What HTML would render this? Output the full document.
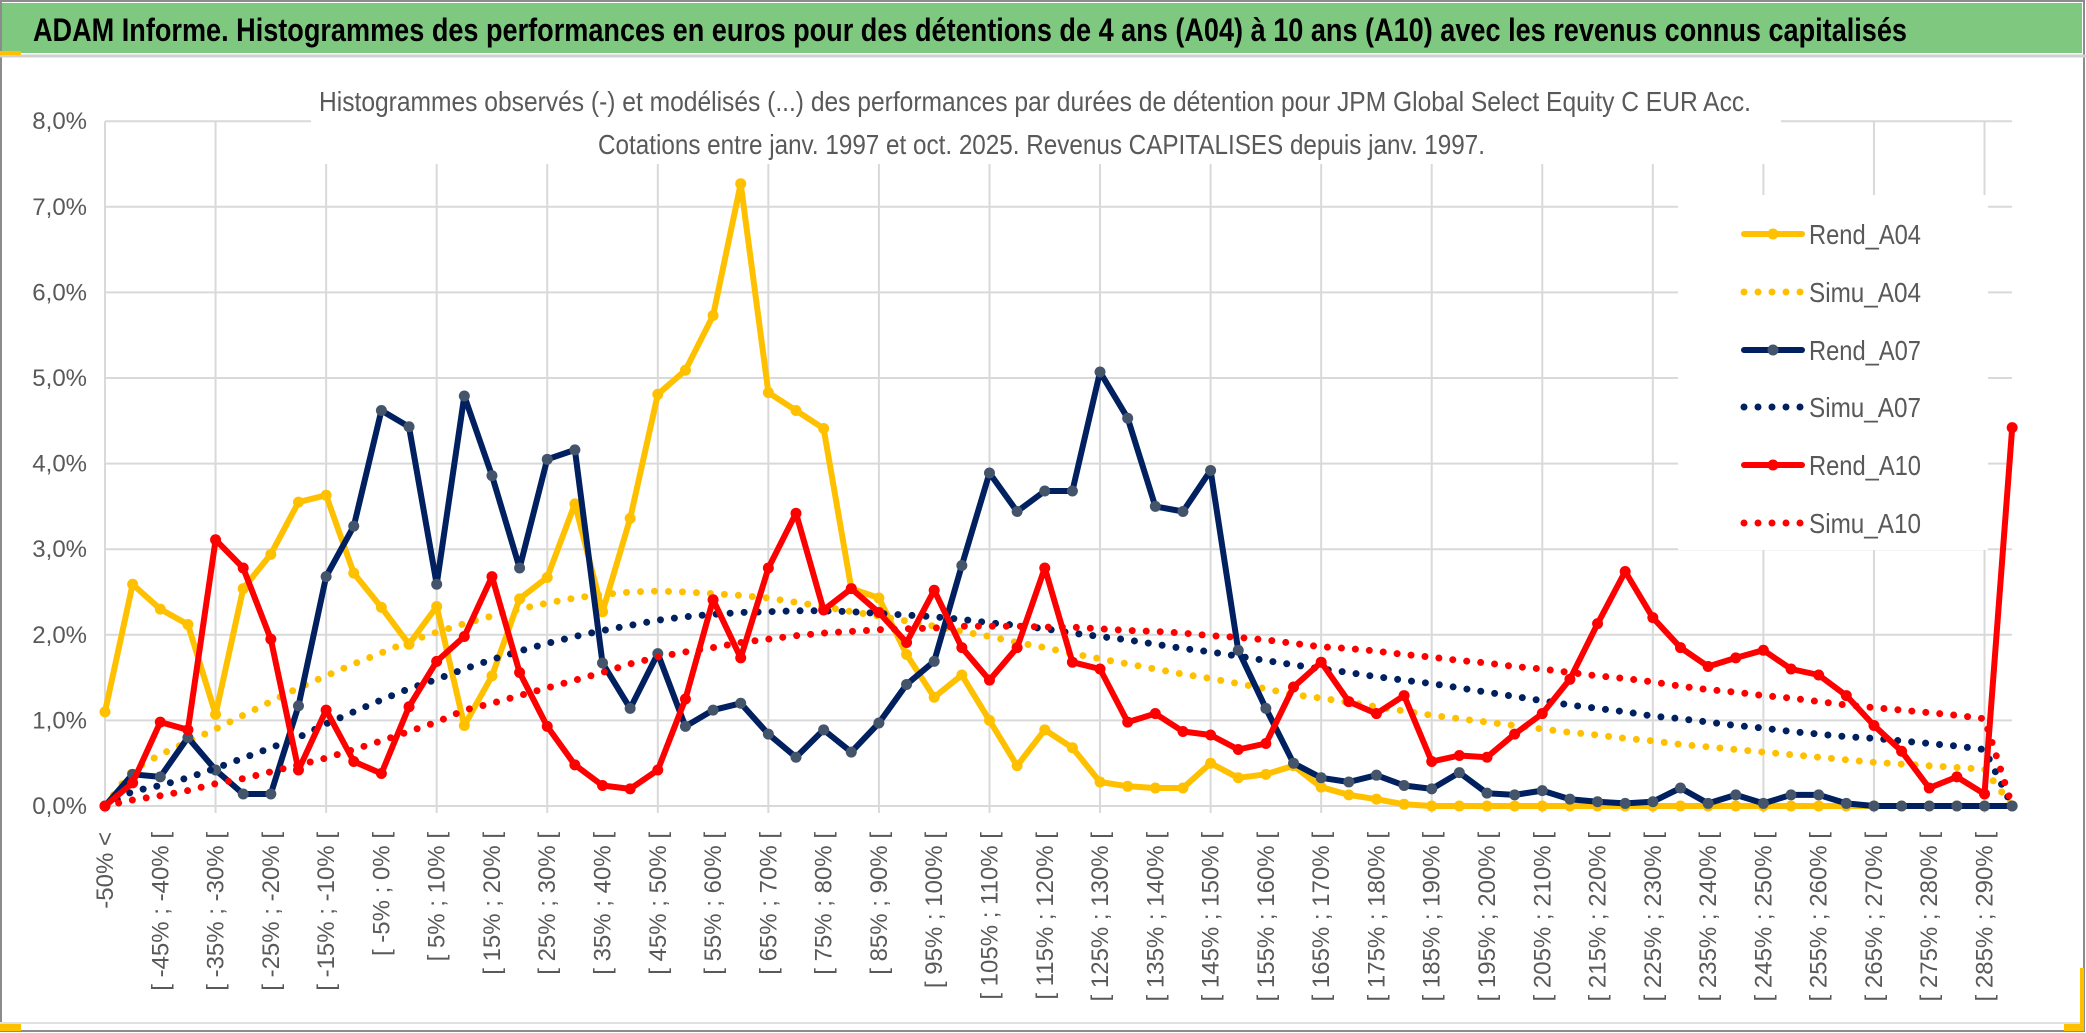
<!DOCTYPE html>
<html><head><meta charset="utf-8">
<style>
html,body{margin:0;padding:0;background:#fff;}
svg{display:block;font-family:"Liberation Sans Narrow","Liberation Sans",sans-serif;}
</style></head>
<body>
<svg id="chart" width="2086" height="1033" viewBox="0 0 2086 1033" xmlns="http://www.w3.org/2000/svg">
  <rect x="0" y="0" width="2086" height="1033" fill="#fff"/>
  <rect x="1" y="1" width="2083" height="1030" fill="none" stroke="#8c8c8c" stroke-width="2"/>
  <rect x="2" y="3" width="2080" height="50" fill="#7ec87f"/>
  <line x1="0" y1="56" x2="2086" y2="56" stroke="#d0d0d0" stroke-width="3"/>
  <rect x="0" y="51" width="21" height="4" fill="#ffc000"/>
  <rect x="0" y="1024" width="21" height="7" fill="#ffc000"/>
  <rect x="2064" y="1023" width="20" height="8" fill="#ffc000"/>
  <rect x="2080" y="968" width="4" height="60" fill="#ffc000"/>
  <line x1="0" y1="1023" x2="2080" y2="1023" stroke="#e0e0e0" stroke-width="2"/>
  <text x="33" y="41" font-size="32" font-weight="bold" fill="#000" textLength="1874" lengthAdjust="spacingAndGlyphs">ADAM Informe. Histogrammes des performances en euros pour des détentions de 4 ans (A04) à 10 ans (A10) avec les revenus connus capitalisés</text>
  <g id="grid"></g>
  <rect x="311" y="75" width="1470" height="89" fill="#fff"/>
  <text x="319" y="111" font-size="28" fill="#595959" textLength="1432" lengthAdjust="spacingAndGlyphs">Histogrammes observés (-) et modélisés (...) des performances par durées de détention pour JPM Global Select Equity C EUR Acc.</text>
  <text x="598" y="154" font-size="28" fill="#595959" textLength="887" lengthAdjust="spacingAndGlyphs">Cotations entre janv. 1997 et oct. 2025. Revenus CAPITALISES depuis janv. 1997.</text>
  <g id="yaxis"></g>
  <g id="xaxis"></g>
  <g id="series"></g>
  <g id="legend"></g>
</svg>
<script>
const categoriesLow = [];
for (let k = -55; k <= 290; k += 5) categoriesLow.push(k);
const categoryLabels = ["-50% <"].concat(categoriesLow.slice(1).map(a => "[ " + a + "% ; " + (a + 5) + "% ["));
const yTicks = [0,1,2,3,4,5,6,7,8];
const yTickLabels = ["0,0%","1,0%","2,0%","3,0%","4,0%","5,0%","6,0%","7,0%","8,0%"];

const rendA04 = [1.10,2.59,2.30,2.12,1.07,2.54,2.94,3.55,3.63,2.72,2.32,1.89,2.33,0.94,1.52,2.42,2.67,3.53,2.27,3.36,4.81,5.09,5.73,7.27,4.83,4.62,4.41,2.54,2.43,1.77,1.27,1.53,1.00,0.47,0.89,0.68,0.28,0.23,0.21,0.21,0.50,0.33,0.37,0.47,0.22,0.13,0.08,0.02,0,0,0,0,0,0,0,0,0,0,0,0,0,0,0,0,0,0,0,0,0,0];
const simuA04 = [0,0.42,0.6,0.75,0.9,1.06,1.22,1.38,1.52,1.66,1.79,1.92,2.03,2.13,2.22,2.30,2.37,2.43,2.47,2.50,2.51,2.50,2.48,2.46,2.43,2.38,2.33,2.27,2.22,2.16,2.10,2.04,1.98,1.91,1.85,1.78,1.72,1.66,1.60,1.54,1.49,1.43,1.37,1.30,1.26,1.21,1.16,1.11,1.06,1.02,0.98,0.94,0.90,0.86,0.83,0.79,0.76,0.72,0.69,0.66,0.63,0.60,0.57,0.54,0.51,0.49,0.47,0.45,0.43,0];
const rendA07 = [0,0.37,0.34,0.80,0.42,0.14,0.14,1.17,2.68,3.27,4.62,4.43,2.59,4.79,3.86,2.78,4.05,4.16,1.67,1.14,1.78,0.93,1.12,1.20,0.84,0.57,0.89,0.63,0.97,1.42,1.69,2.81,3.89,3.44,3.68,3.68,5.07,4.53,3.50,3.44,3.92,1.82,1.14,0.50,0.33,0.28,0.36,0.24,0.20,0.39,0.15,0.13,0.18,0.08,0.05,0.03,0.05,0.21,0.03,0.13,0.03,0.13,0.13,0.03,0,0,0,0,0,0];
const simuA07 = [0,0.17,0.24,0.33,0.44,0.56,0.68,0.8,0.96,1.1,1.24,1.37,1.48,1.6,1.71,1.81,1.9,1.98,2.05,2.11,2.17,2.21,2.24,2.26,2.27,2.28,2.28,2.27,2.25,2.23,2.21,2.18,2.14,2.11,2.07,2.02,1.98,1.94,1.89,1.84,1.80,1.75,1.70,1.65,1.60,1.56,1.51,1.47,1.43,1.38,1.33,1.28,1.23,1.18,1.14,1.10,1.05,1.02,0.98,0.94,0.91,0.87,0.84,0.81,0.79,0.76,0.73,0.70,0.66,0];
const rendA10 = [0,0.27,0.98,0.89,3.11,2.78,1.95,0.42,1.12,0.52,0.38,1.16,1.69,1.98,2.68,1.56,0.93,0.48,0.24,0.20,0.42,1.25,2.41,1.73,2.78,3.42,2.29,2.54,2.26,1.91,2.52,1.85,1.47,1.85,2.78,1.68,1.60,0.98,1.08,0.87,0.83,0.66,0.73,1.39,1.68,1.22,1.08,1.29,0.52,0.59,0.57,0.84,1.08,1.48,2.13,2.74,2.20,1.85,1.63,1.73,1.82,1.60,1.53,1.29,0.94,0.64,0.21,0.34,0.14,4.42];
const simuA10 = [0,0.07,0.12,0.18,0.26,0.32,0.40,0.48,0.56,0.66,0.76,0.87,0.98,1.12,1.20,1.29,1.38,1.47,1.56,1.66,1.74,1.80,1.85,1.91,1.95,1.99,2.02,2.04,2.06,2.07,2.08,2.10,2.10,2.10,2.09,2.09,2.07,2.05,2.04,2.02,1.99,1.97,1.94,1.90,1.86,1.84,1.81,1.77,1.74,1.70,1.67,1.63,1.60,1.56,1.52,1.49,1.45,1.40,1.36,1.33,1.29,1.26,1.22,1.18,1.15,1.12,1.09,1.06,1.02,0];

const NS = "http://www.w3.org/2000/svg";
const X0 = 105, STEP = 27.64, Y0 = 806, YPER = 85.6;
const xPos = i => X0 + i * STEP;
const yPos = v => Y0 - v * YPER;
function mk(tag, attrs, parent) {
  const e = document.createElementNS(NS, tag);
  for (const k in attrs) e.setAttribute(k, attrs[k]);
  parent.appendChild(e);
  return e;
}
const grid = document.getElementById('grid');
yTicks.forEach(t => {
  const l = mk('line', {x1: X0, x2: 2012, y1: yPos(t), y2: yPos(t), stroke: '#d9d9d9', 'stroke-width': 2}, grid);
  
  
});
for (let i = 0; i < categoryLabels.length; i += 4) {
  const l = mk('line', {x1: xPos(i), x2: xPos(i), y1: yPos(8), y2: Y0 + 7, stroke: '#d9d9d9', 'stroke-width': 2}, grid);
  
  
}
const yax = document.getElementById('yaxis');
yTicks.forEach((t, i) => {
  const tx = mk('text', {x: 87, y: yPos(t) + 8, 'font-size': 24, fill: '#595959', 'text-anchor': 'end'}, yax);
  
  
  tx.textContent = yTickLabels[i];
});
const xax = document.getElementById('xaxis');
for (let i = 0; i < categoryLabels.length; i += 2) {
  const x = xPos(i) + 8, y = 832;
  const tx = mk('text', {x: x, y: y, 'font-size': 24, fill: '#595959', 'text-anchor': 'end', transform: 'rotate(-90 ' + x + ' ' + y + ')', 'font-family': '"Liberation Sans",sans-serif'}, xax);
  
  
  tx.textContent = categoryLabels[i];
}
const ser = document.getElementById('series');
function pts(arr) { return arr.map((v, i) => xPos(i).toFixed(1) + ',' + yPos(v).toFixed(1)).join(' '); }
function drawRend(arr, color, mcolor, name) {
  const g = mk('g', {}, ser);
  
  
  const p = mk('polyline', {points: pts(arr), fill: 'none', stroke: color, 'stroke-width': 6, 'stroke-linejoin': 'round'}, g);
  
  
  arr.forEach((v, i) => {
    const c = mk('circle', {cx: xPos(i), cy: yPos(v), r: 5.5, fill: mcolor}, g);
    
    
  });
}
function drawSimu(arr, color, name) {
  const p = mk('polyline', {points: pts(arr), fill: 'none', stroke: color, 'stroke-width': 7, 'stroke-linecap': 'round', 'stroke-dasharray': '0 14'}, ser);
  
  
}
drawRend(rendA04, '#ffc000', '#ffc000', 'rend-a04');
drawSimu(simuA04, '#ffc000', 'simu-a04');
drawRend(rendA07, '#002060', '#44546a', 'rend-a07');
drawSimu(simuA07, '#002060', 'simu-a07');
drawRend(rendA10, '#ff0000', '#ff0000', 'rend-a10');
drawSimu(simuA10, '#ff0000', 'simu-a10');

const leg = document.getElementById('legend');
const bg = mk('rect', {x: 1678, y: 195, width: 310, height: 355, fill: '#fff'}, leg);


const legendNames = ["Rend_A04","Simu_A04","Rend_A07","Simu_A07","Rend_A10","Simu_A10"];
const legendColors = ['#ffc000','#ffc000','#002060','#002060','#ff0000','#ff0000'];
const legendY = [234, 292, 350, 407, 465, 523];
legendNames.forEach((n, i) => {
  const g = mk('g', {}, leg);
  
  
  const y = legendY[i];
  if (i % 2 === 0) {
    mk('line', {x1: 1744, x2: 1802, y1: y, y2: y, stroke: legendColors[i], 'stroke-width': 6, 'stroke-linecap': 'round'}, g);
    mk('circle', {cx: 1773, cy: y, r: 5.5, fill: i === 2 ? '#44546a' : legendColors[i]}, g);
  } else {
    mk('line', {x1: 1744, x2: 1802, y1: y, y2: y, stroke: legendColors[i], 'stroke-width': 7, 'stroke-linecap': 'round', 'stroke-dasharray': '0 14'}, g);
  }
  const t = mk('text', {x: 1809, y: y + 10, 'font-size': 28, fill: '#595959', textLength: 112, lengthAdjust: 'spacingAndGlyphs'}, g);
  t.textContent = n;
});
</script>
</body></html>
